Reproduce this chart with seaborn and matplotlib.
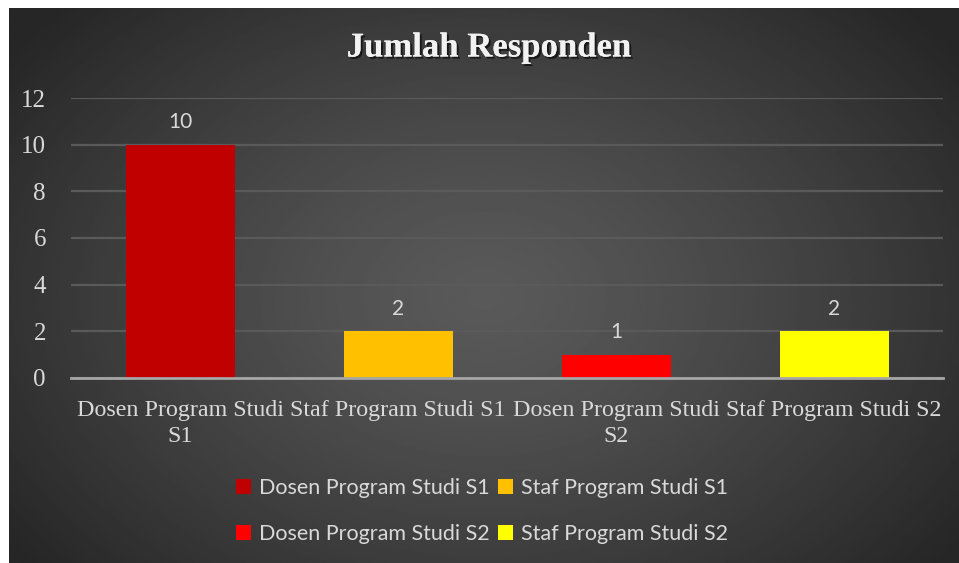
import numpy as np
import pandas as pd
import matplotlib
matplotlib.use("Agg")
import matplotlib.pyplot as plt
import matplotlib.patheffects as pe
from matplotlib.patches import Patch
import seaborn as sns

categories = ["Dosen Program Studi S1", "Staf Program Studi S1",
              "Dosen Program Studi S2", "Staf Program Studi S2"]
tick_labels = ["Dosen Program Studi\nS1", "Staf Program Studi S1",
               "Dosen Program Studi\nS2", "Staf Program Studi S2"]
values = [10, 2, 1, 2]
colors = ["#C00000", "#FFC000", "#FF0000", "#FFFF00"]
yticks = [0, 2, 4, 6, 8, 10, 12]
title = "Jumlah Responden"

sns.set_theme(style="dark")
plt.rcParams["font.family"] = ["Liberation Serif", "DejaVu Sans"]

W, H = 959, 563
fig = plt.figure(figsize=(W / 100, H / 100), dpi=100, facecolor="white")

# background panel with radial gradient
bg = fig.add_axes([9 / W, 0, (W - 9) / W, (H - 8) / H])
ny, nx = 300, 500
yy, xx = np.mgrid[0:ny, 0:nx]
cx, cy = nx * 0.5, ny * 0.52
r = np.sqrt(((xx - cx) / (nx * 0.62)) ** 2 + ((yy - cy) / (ny * 0.75)) ** 2)
r = np.clip(r, 0, 1)
lo, hi = 0.15, 0.35
img = hi - (hi - lo) * r ** 1.3
bg.imshow(img, cmap="gray", vmin=0, vmax=1, aspect="auto",
          extent=[0, 1, 0, 1], interpolation="bilinear")
bg.set_axis_off()

ax = fig.add_axes([71 / W, (H - 378) / H, (943 - 71) / W, (378 - 98) / H])
ax.set_facecolor("none")

df = pd.DataFrame({"cat": categories, "val": values})
sns.barplot(data=df, x="cat", y="val", hue="cat", palette=colors,
            width=0.5, ax=ax, legend=False, saturation=1, zorder=3,
            edgecolor="none", linewidth=0)

ax.set_ylim(0, 12)
ax.set_xlim(-0.5, 3.5)
ax.set_yticks(yticks)
ax.set_xticks(range(len(categories)))
ax.set_xticklabels(tick_labels)
ax.set_xlabel("")
ax.set_ylabel("")
ax.grid(axis="y", color="#5a5a5a", linewidth=1.6, zorder=0)
ax.grid(axis="x", visible=False)
for s in ["top", "right", "left"]:
    ax.spines[s].set_visible(False)
ax.spines["bottom"].set_color("#a6a6a6")
ax.spines["bottom"].set_linewidth(2)
ax.spines["bottom"].set_zorder(4)
ax.tick_params(axis="y", colors="#d9d9d9", labelsize=18, length=0, pad=18)
ax.tick_params(axis="x", colors="#d9d9d9", labelsize=17.3, length=0, pad=16)
for lbl in ax.get_xticklabels():
    lbl.set_linespacing(1.3)

for cont in ax.containers:
    ax.bar_label(cont, padding=9, color="#d9d9d9", fontsize=15,
                 family=["Lato", "DejaVu Sans"])

fig.text(489 / W, 1 - 48 / H, title, ha="center", va="center",
         fontsize=25, fontweight="bold", color="#f2f2f2",
         family=["Liberation Serif", "DejaVu Sans"],
         path_effects=[pe.withSimplePatchShadow(offset=(1.5, -1.5), alpha=0.6,
                                                shadow_rgbFace="black"),
                       pe.Normal()])

order = [0, 2, 1, 3]
handles = [Patch(facecolor=colors[i], edgecolor="none") for i in order]
labels = [categories[i] for i in order]
leg = fig.legend(handles, labels, ncol=2, loc="center",
                 bbox_to_anchor=(482 / W, 1 - 511 / H), frameon=False,
                 prop={"family": ["Lato", "DejaVu Sans"], "size": 15.5},
                 labelcolor="#d9d9d9", handlelength=0.7, handleheight=0.7,
                 handletextpad=0.35, columnspacing=0.4, labelspacing=1.2)

fig.savefig("out.png", dpi=100, facecolor="white")
